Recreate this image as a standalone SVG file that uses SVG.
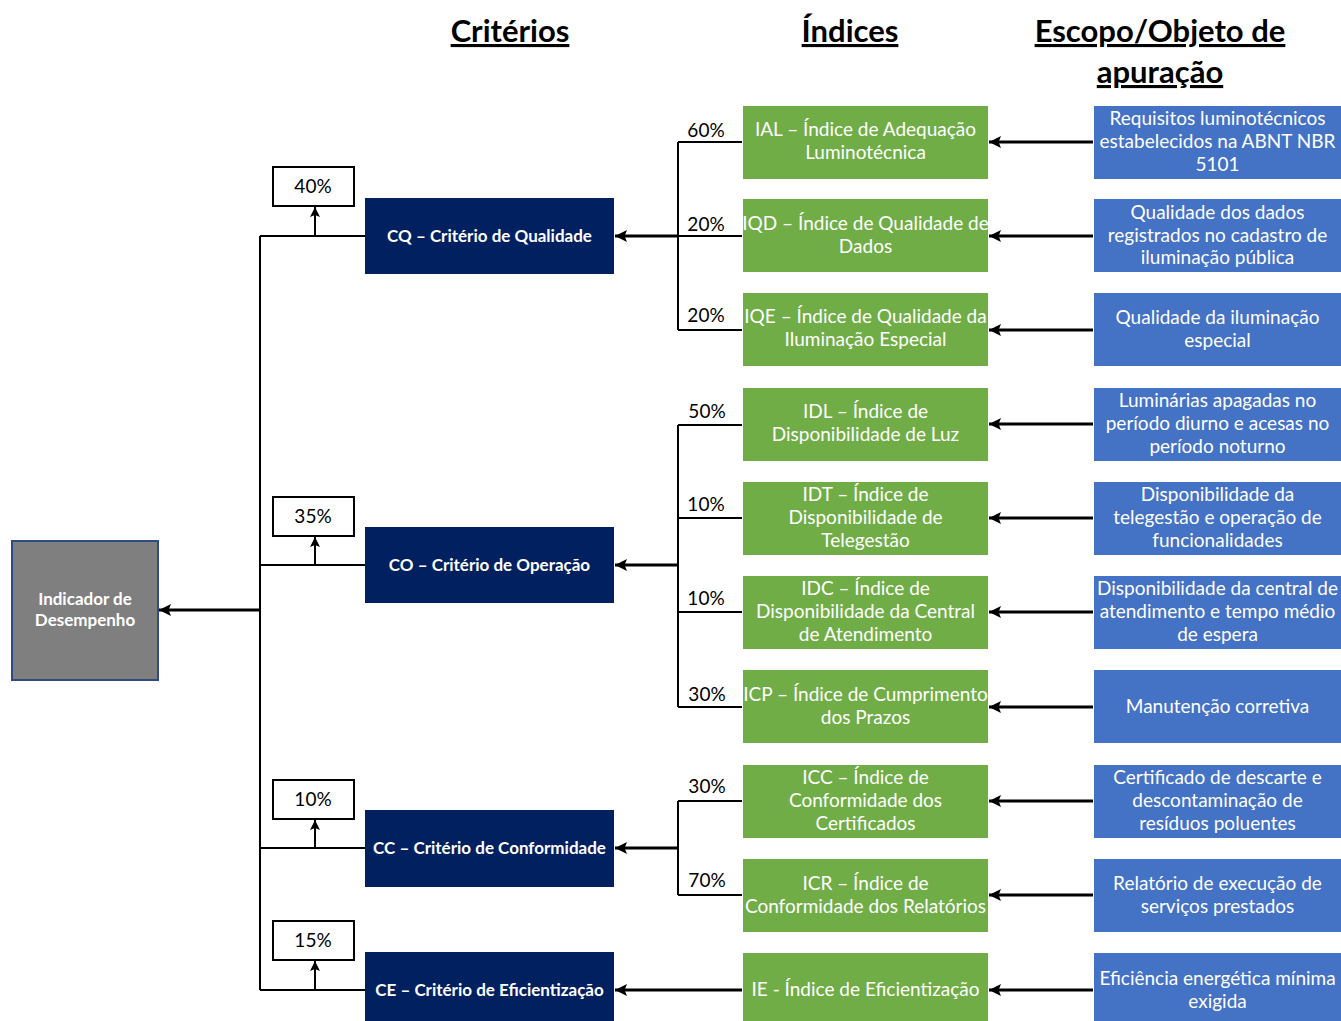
<svg xmlns="http://www.w3.org/2000/svg" width="1341" height="1021" viewBox="0 0 1341 1021">
<style>
text{font-family:Lato,"Open Sans","Liberation Sans",sans-serif}
.hdr{font-size:31px;font-weight:bold;fill:#000;text-anchor:middle;text-decoration:underline}
.ind{fill:#7f7f7f;stroke:#2f4b80;stroke-width:2}
.crit{fill:#002060}
.idx{fill:#70ad47}
.scp{fill:#4472c4}
.pbox{fill:#fff;stroke:#000;stroke-width:2}
.wb{fill:#fff;font-size:17px;font-weight:bold;text-anchor:middle}
.wt{fill:#fff;font-size:19px;text-anchor:middle}
.pt{fill:#000;font-size:19px;text-anchor:middle}
.ln{stroke:#000;stroke-width:2;fill:none}
.ar{stroke:#000;stroke-width:3;fill:none;marker-end:url(#ah)}
.ar2{stroke:#000;stroke-width:2;fill:none;marker-end:url(#ah2)}
</style>
<defs>
<marker id="ah" viewBox="0 0 10 10" refX="10" refY="5" markerWidth="4" markerHeight="4" orient="auto" markerUnits="strokeWidth">
<path d="M0,0 L10,5 L0,10 L2,5 Z" fill="#000"/>
</marker>
<marker id="ah2" viewBox="0 0 10 10" refX="10" refY="5" markerWidth="5" markerHeight="5" orient="auto" markerUnits="strokeWidth">
<path d="M0,0 L10,5 L0,10 L2,5 Z" fill="#000"/>
</marker>
</defs>
<rect width="1341" height="1021" fill="#fff"/>
<g id="headers">
<text class="hdr" x="510" y="42">Critérios</text>
<text class="hdr" x="850" y="42">Índices</text>
<text class="hdr" x="1160" y="42">Escopo/Objeto de</text>
<text class="hdr" x="1160" y="83">apuração</text>
</g>
<g id="connectors">
<path class="ln" d="M260,236 V990"/>
<path class="ar" d="M260,610 H159"/>
<path class="ln" d="M260,236 H365 M260,565 H365 M260,848 H365 M260,990 H365"/>
<path class="ar2" d="M315,236 V207"/>
<path class="ar2" d="M315,565 V537"/>
<path class="ar2" d="M315,848 V820"/>
<path class="ar2" d="M315,990 V961"/>
<path class="ln" d="M678,142 V330 M678,142 H742 M678,236 H742 M678,330 H742"/>
<path class="ln" d="M678,425 V707 M678,425 H742 M678,518 H742 M678,612 H742 M678,707 H742"/>
<path class="ln" d="M678,801 V895 M678,801 H742 M678,895 H742"/>
<path class="ar" d="M678,236 H615"/>
<path class="ar" d="M678,565 H615"/>
<path class="ar" d="M678,848 H615"/>
<path class="ar" d="M742,990 H615"/>
<path class="ar" d="M1093,142 H989"/>
<path class="ar" d="M1093,236 H989"/>
<path class="ar" d="M1093,330 H989"/>
<path class="ar" d="M1093,424 H989"/>
<path class="ar" d="M1093,518 H989"/>
<path class="ar" d="M1093,612 H989"/>
<path class="ar" d="M1093,707 H989"/>
<path class="ar" d="M1093,801 H989"/>
<path class="ar" d="M1093,895 H989"/>
<path class="ar" d="M1093,990 H989"/>
<text class="pt" x="706" y="137">60%</text>
<text class="pt" x="706" y="231">20%</text>
<text class="pt" x="706" y="322">20%</text>
<text class="pt" x="707" y="418">50%</text>
<text class="pt" x="706" y="511">10%</text>
<text class="pt" x="706" y="605">10%</text>
<text class="pt" x="707" y="701">30%</text>
<text class="pt" x="707" y="793">30%</text>
<text class="pt" x="707" y="887">70%</text>
</g>
<g id="indicador">
<rect class="ind" x="12" y="541" width="146" height="139"/>
<text class="wb" x="85" y="605">Indicador de</text>
<text class="wb" x="85" y="626">Desempenho</text>
</g>
<g id="p40"><rect class="pbox" x="273" y="167" width="81" height="39"/><text class="pt" x="313" y="193">40%</text></g>
<g id="p35"><rect class="pbox" x="273" y="497" width="81" height="39"/><text class="pt" x="313" y="523">35%</text></g>
<g id="p10"><rect class="pbox" x="273" y="780" width="81" height="39"/><text class="pt" x="313" y="806">10%</text></g>
<g id="p15"><rect class="pbox" x="273" y="921" width="81" height="39"/><text class="pt" x="313" y="947">15%</text></g>
<g id="cq"><rect class="crit" x="365" y="198" width="249" height="76"/><text class="wb" x="489.5" y="242">CQ – Critério de Qualidade</text></g>
<g id="co"><rect class="crit" x="365" y="527" width="249" height="76"/><text class="wb" x="489.5" y="571">CO – Critério de Operação</text></g>
<g id="cc"><rect class="crit" x="365" y="810" width="249" height="77"/><text class="wb" x="489.5" y="854">CC – Critério de Conformidade</text></g>
<g id="ce"><rect class="crit" x="365" y="952" width="249" height="76"/><text class="wb" x="489.5" y="996">CE – Critério de Eficientização</text></g>
<g id="ial"><rect class="idx" x="743" y="106" width="245" height="73"/><text class="wt" x="865.5" y="136">IAL – Índice de Adequação</text><text class="wt" x="865.5" y="159">Luminotécnica</text></g>
<g id="iqd"><rect class="idx" x="743" y="199" width="245" height="73"/><text class="wt" x="865.5" y="230">IQD – Índice de Qualidade de</text><text class="wt" x="865.5" y="253">Dados</text></g>
<g id="iqe"><rect class="idx" x="743" y="293" width="245" height="73"/><text class="wt" x="865.5" y="323">IQE – Índice de Qualidade da</text><text class="wt" x="865.5" y="346">Iluminação Especial</text></g>
<g id="idl"><rect class="idx" x="743" y="388" width="245" height="73"/><text class="wt" x="865.5" y="418">IDL – Índice de</text><text class="wt" x="865.5" y="441">Disponibilidade de Luz</text></g>
<g id="idt"><rect class="idx" x="743" y="482" width="245" height="73"/><text class="wt" x="865.5" y="501">IDT – Índice de</text><text class="wt" x="865.5" y="524">Disponibilidade de</text><text class="wt" x="865.5" y="547">Telegestão</text></g>
<g id="idc"><rect class="idx" x="743" y="576" width="245" height="73"/><text class="wt" x="865.5" y="595">IDC – Índice de</text><text class="wt" x="865.5" y="618">Disponibilidade da Central</text><text class="wt" x="865.5" y="641">de Atendimento</text></g>
<g id="icp"><rect class="idx" x="743" y="670" width="245" height="73"/><text class="wt" x="865.5" y="701">ICP – Índice de Cumprimento</text><text class="wt" x="865.5" y="724">dos Prazos</text></g>
<g id="icc"><rect class="idx" x="743" y="765" width="245" height="73"/><text class="wt" x="865.5" y="784">ICC – Índice de</text><text class="wt" x="865.5" y="807">Conformidade dos</text><text class="wt" x="865.5" y="830">Certificados</text></g>
<g id="icr"><rect class="idx" x="743" y="859" width="245" height="73"/><text class="wt" x="865.5" y="890">ICR – Índice de</text><text class="wt" x="865.5" y="913">Conformidade dos Relatórios</text></g>
<g id="ie"><rect class="idx" x="743" y="953" width="245" height="75"/><text class="wt" x="865.5" y="996">IE - Índice de Eficientização</text></g>
<g id="s1"><rect class="scp" x="1094" y="106" width="247" height="73"/><text class="wt" x="1217.5" y="125">Requisitos luminotécnicos</text><text class="wt" x="1217.5" y="148">estabelecidos na ABNT NBR</text><text class="wt" x="1217.5" y="171">5101</text></g>
<g id="s2"><rect class="scp" x="1094" y="199" width="247" height="73"/><text class="wt" x="1217.5" y="219">Qualidade dos dados</text><text class="wt" x="1217.5" y="242">registrados no cadastro de</text><text class="wt" x="1217.5" y="264">iluminação pública</text></g>
<g id="s3"><rect class="scp" x="1094" y="293" width="247" height="73"/><text class="wt" x="1217.5" y="324">Qualidade da iluminação</text><text class="wt" x="1217.5" y="347">especial</text></g>
<g id="s4"><rect class="scp" x="1094" y="388" width="247" height="73"/><text class="wt" x="1217.5" y="407">Luminárias apagadas no</text><text class="wt" x="1217.5" y="430">período diurno e acesas no</text><text class="wt" x="1217.5" y="453">período noturno</text></g>
<g id="s5"><rect class="scp" x="1094" y="482" width="247" height="73"/><text class="wt" x="1217.5" y="501">Disponibilidade da</text><text class="wt" x="1217.5" y="524">telegestão e operação de</text><text class="wt" x="1217.5" y="547">funcionalidades</text></g>
<g id="s6"><rect class="scp" x="1094" y="576" width="247" height="73"/><text class="wt" x="1217.5" y="595">Disponibilidade da central de</text><text class="wt" x="1217.5" y="618">atendimento e tempo médio</text><text class="wt" x="1217.5" y="641">de espera</text></g>
<g id="s7"><rect class="scp" x="1094" y="670" width="247" height="73"/><text class="wt" x="1217.5" y="713">Manutenção corretiva</text></g>
<g id="s8"><rect class="scp" x="1094" y="765" width="247" height="73"/><text class="wt" x="1217.5" y="784">Certificado de descarte e</text><text class="wt" x="1217.5" y="807">descontaminação de</text><text class="wt" x="1217.5" y="830">resíduos poluentes</text></g>
<g id="s9"><rect class="scp" x="1094" y="859" width="247" height="73"/><text class="wt" x="1217.5" y="890">Relatório de execução de</text><text class="wt" x="1217.5" y="913">serviços prestados</text></g>
<g id="s10"><rect class="scp" x="1094" y="953" width="247" height="75"/><text class="wt" x="1217.5" y="985">Eficiência energética mínima</text><text class="wt" x="1217.5" y="1008">exigida</text></g>
</svg>
